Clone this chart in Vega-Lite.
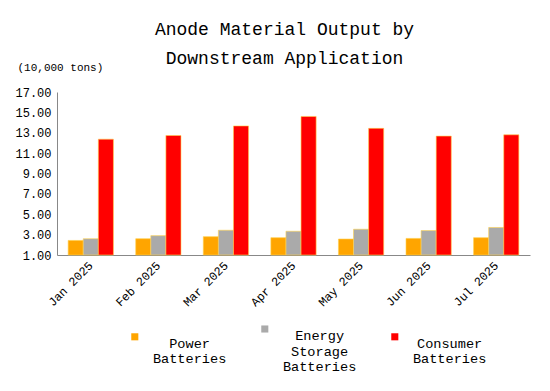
{
  "$schema": "https://vega.github.io/schema/vega-lite/v6.json",
  "width": 473,
  "height": 163,
  "autosize": {"type": "none"},
  "padding": {"left": 57, "top": 92, "right": 20, "bottom": 136},
  "background": "white",
  "title": {
    "text": ["Anode Material Output by", "Downstream Application"],
    "font": "Liberation Mono",
    "fontSize": 18,
    "fontWeight": "normal",
    "color": "#000000",
    "lineHeight": 29,
    "anchor": "middle",
    "frame": "group",
    "dx": -9,
    "offset": -7
  },
  "data": {
    "values": [
      {"month": "Jan 2025", "series": "Power Batteries", "value": 2.43},
      {"month": "Jan 2025", "series": "Energy Storage Batteries", "value": 2.6},
      {"month": "Jan 2025", "series": "Consumer Batteries", "value": 12.37},
      {"month": "Feb 2025", "series": "Power Batteries", "value": 2.6},
      {"month": "Feb 2025", "series": "Energy Storage Batteries", "value": 2.9},
      {"month": "Feb 2025", "series": "Consumer Batteries", "value": 12.73},
      {"month": "Mar 2025", "series": "Power Batteries", "value": 2.8},
      {"month": "Mar 2025", "series": "Energy Storage Batteries", "value": 3.43},
      {"month": "Mar 2025", "series": "Consumer Batteries", "value": 13.67},
      {"month": "Apr 2025", "series": "Power Batteries", "value": 2.7},
      {"month": "Apr 2025", "series": "Energy Storage Batteries", "value": 3.33},
      {"month": "Apr 2025", "series": "Consumer Batteries", "value": 14.6},
      {"month": "May 2025", "series": "Power Batteries", "value": 2.57},
      {"month": "May 2025", "series": "Energy Storage Batteries", "value": 3.53},
      {"month": "May 2025", "series": "Consumer Batteries", "value": 13.43},
      {"month": "Jun 2025", "series": "Power Batteries", "value": 2.63},
      {"month": "Jun 2025", "series": "Energy Storage Batteries", "value": 3.4},
      {"month": "Jun 2025", "series": "Consumer Batteries", "value": 12.67},
      {"month": "Jul 2025", "series": "Power Batteries", "value": 2.7},
      {"month": "Jul 2025", "series": "Energy Storage Batteries", "value": 3.7},
      {"month": "Jul 2025", "series": "Consumer Batteries", "value": 12.8}
    ]
  },
  "mark": {"type": "bar", "stroke": "#FFD24D", "strokeWidth": 0.6},
  "encoding": {
    "x": {
      "field": "month",
      "type": "nominal",
      "sort": null,
      "scale": {"paddingInner": 0.33, "paddingOuter": 0.165},
      "axis": {
        "title": null,
        "labelAngle": -45,
        "labelAlign": "right",
        "labelBaseline": "middle",
        "labelFont": "Liberation Mono",
        "labelFontSize": 12,
        "labelColor": "#000000",
        "labelPadding": 8,
        "ticks": false,
        "domainColor": "#888888",
        "grid": false
      }
    },
    "xOffset": {
      "field": "series",
      "type": "nominal",
      "sort": ["Power Batteries", "Energy Storage Batteries", "Consumer Batteries"],
      "scale": {"paddingInner": 0, "paddingOuter": 0}
    },
    "y": {
      "field": "value",
      "type": "quantitative",
      "scale": {"domain": [1, 17], "zero": false, "nice": false},
      "axis": {
        "title": "(10,000 tons)",
        "titleAngle": 0,
        "titleAlign": "left",
        "titleBaseline": "middle",
        "titleX": -40,
        "titleY": -25,
        "titleFont": "Liberation Mono",
        "titleFontSize": 11,
        "titleFontWeight": "normal",
        "titleColor": "#000000",
        "values": [1, 3, 5, 7, 9, 11, 13, 15, 17],
        "format": ".2f",
        "labelFont": "Liberation Mono",
        "labelFontSize": 12,
        "labelColor": "#000000",
        "ticks": false,
        "labelPadding": 6,
        "domainColor": "#888888",
        "grid": false
      }
    },
    "y2": {"datum": 1},
    "color": {
      "field": "series",
      "type": "nominal",
      "scale": {
        "domain": ["Power Batteries", "Energy Storage Batteries", "Consumer Batteries"],
        "range": ["#FFA500", "#AAAAAA", "#FF0000"]
      },
      "legend": {
        "title": null,
        "orient": "none",
        "legendX": 71,
        "legendY": 230,
        "direction": "horizontal",
        "columns": 3,
        "symbolType": "square",
        "symbolSize": 50,
        "symbolStrokeWidth": 0,
        "labelFont": "Liberation Mono",
        "labelFontSize": 13.6,
        "labelColor": "#000000",
        "labelAlign": "center",
        "labelBaseline": "top",
        "labelOffset": 48,
        "labelLimit": 0,
        "labelLineHeight": 21,
        "columnPadding": 31,
        "labelExpr": "datum.label == 'Power Batteries' ? ['Power','Batteries'] : datum.label == 'Energy Storage Batteries' ? ['Energy','Storage','Batteries'] : ['Consumer','Batteries']"
      }
    }
  },
  "config": {"view": {"stroke": null}}
}
